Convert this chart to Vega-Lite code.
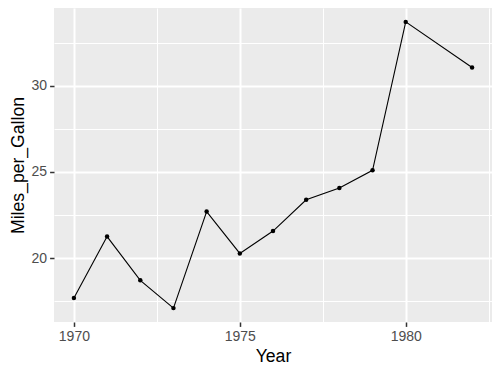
{
  "$schema": "https://vega.github.io/schema/vega-lite/v6.json",
  "width": 438,
  "height": 314,
  "autosize": {"type": "none"},
  "padding": {"left": 54, "top": 8, "right": 8, "bottom": 53},
  "background": "white",
  "config": {
    "view": {"fill": "#EBEBEB", "stroke": null},
    "axis": {
      "domain": false,
      "labelFont": "Liberation Sans",
      "labelFontSize": 14,
      "labelColor": "#4D4D4D",
      "labelPadding": 3,
      "tickColor": "#333333",
      "tickSize": 4.4,
      "tickWidth": 1.5,
      "gridColor": "white",
      "titleFont": "Liberation Sans",
      "titleFontSize": 17.6,
      "titleFontWeight": "normal",
      "titleColor": "black"
    }
  },
  "data": {
    "values": [
      {"Year": 1970, "Miles_per_Gallon": 17.69},
      {"Year": 1971, "Miles_per_Gallon": 21.25},
      {"Year": 1972, "Miles_per_Gallon": 18.71},
      {"Year": 1973, "Miles_per_Gallon": 17.10},
      {"Year": 1974, "Miles_per_Gallon": 22.70},
      {"Year": 1975, "Miles_per_Gallon": 20.27},
      {"Year": 1976, "Miles_per_Gallon": 21.57},
      {"Year": 1977, "Miles_per_Gallon": 23.38},
      {"Year": 1978, "Miles_per_Gallon": 24.06},
      {"Year": 1979, "Miles_per_Gallon": 25.09},
      {"Year": 1980, "Miles_per_Gallon": 33.70},
      {"Year": 1982, "Miles_per_Gallon": 31.05}
    ]
  },
  "layer": [
    {
      "mark": {"type": "line", "color": "black", "strokeWidth": 1.1},
      "encoding": {
        "x": {
          "field": "Year", "type": "quantitative",
          "scale": {"domain": [1969.4, 1982.6], "nice": false, "zero": false},
          "axis": {"orient": "bottom", "values": [1972.5, 1977.5, 1982.5], "grid": true, "gridWidth": 1, "labels": false, "ticks": false, "title": null}
        },
        "y": {
          "field": "Miles_per_Gallon", "type": "quantitative",
          "scale": {"domain": [16.295, 34.505], "nice": false, "zero": false},
          "axis": {"orient": "left", "values": [17.5, 22.5, 27.5, 32.5], "grid": true, "gridWidth": 1, "labels": false, "ticks": false, "title": null}
        }
      }
    },
    {
      "mark": {"type": "point", "filled": true, "color": "black", "size": 20, "opacity": 1},
      "encoding": {
        "x": {
          "field": "Year", "type": "quantitative",
          "axis": {"orient": "bottom", "values": [1970, 1975, 1980], "format": "d", "grid": true, "gridWidth": 2, "title": "Year", "titlePadding": 4}
        },
        "y": {
          "field": "Miles_per_Gallon", "type": "quantitative",
          "axis": {"orient": "left", "values": [20, 25, 30], "grid": true, "gridWidth": 2, "title": "Miles_per_Gallon", "titlePadding": 4}
        }
      }
    }
  ],
  "resolve": {"axis": {"x": "independent", "y": "independent"}}
}
